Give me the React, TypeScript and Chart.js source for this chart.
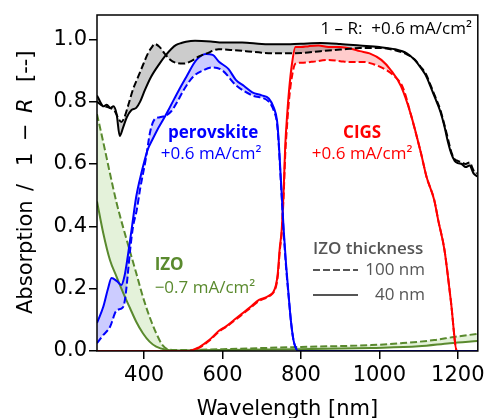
import React, { useEffect, useRef } from "react";
import { Chart, registerables } from "chart.js";

Chart.register(...registerables);

// ---- data (wavelength in nm, absorption / 1-R) ----
const wlBlack40 = [280, 288, 296, 305, 314, 322, 330, 338, 346, 356, 368, 380, 390, 402, 418, 440, 456, 470, 482, 495, 507, 530, 570, 600, 650, 700, 750, 800, 850, 900, 950, 1000, 1040, 1070, 1090, 1105, 1118, 1130, 1141, 1155, 1166, 1175, 1183, 1192, 1200, 1210, 1220, 1230, 1240, 1250];
const absBlack40 = [0.82, 0.80, 0.785, 0.79, 0.78, 0.785, 0.76, 0.69, 0.715, 0.75, 0.773, 0.78, 0.80, 0.837, 0.88, 0.923, 0.95, 0.97, 0.982, 0.988, 0.992, 0.995, 0.993, 0.99, 0.99, 0.985, 0.984, 0.986, 0.988, 0.985, 0.98, 0.975, 0.968, 0.955, 0.934, 0.91, 0.885, 0.85, 0.815, 0.77, 0.72, 0.67, 0.635, 0.61, 0.603, 0.60, 0.59, 0.595, 0.57, 0.56];

const wlBlack100 = [280, 290, 300, 312, 325, 335, 342, 350, 360, 372, 385, 398, 410, 420, 427, 440, 452, 466, 480, 500, 520, 540, 560, 590, 620, 660, 700, 750, 800, 850, 900, 950, 1000, 1040, 1070, 1090, 1105, 1118, 1130, 1141, 1155, 1166, 1175, 1183, 1192, 1200, 1210, 1220, 1230, 1240, 1250];
const absBlack100 = [0.80, 0.79, 0.785, 0.78, 0.77, 0.745, 0.735, 0.75, 0.79, 0.84, 0.88, 0.92, 0.955, 0.975, 0.985, 0.975, 0.955, 0.935, 0.925, 0.922, 0.93, 0.945, 0.955, 0.968, 0.966, 0.962, 0.957, 0.955, 0.956, 0.962, 0.967, 0.972, 0.972, 0.965, 0.952, 0.935, 0.912, 0.89, 0.855, 0.82, 0.775, 0.725, 0.68, 0.64, 0.615, 0.61, 0.605, 0.60, 0.605, 0.58, 0.57];

const wlPero40 = [280, 296, 308, 317, 330, 342, 350, 358, 368, 380, 393, 409, 422, 434, 450, 465, 490, 508, 533, 558, 575, 591, 615, 634, 655, 676, 700, 718, 731, 739, 743, 748, 752, 756, 762, 769, 775, 781, 787, 792, 1250];
const absPero40 = [0.09, 0.142, 0.20, 0.234, 0.225, 0.212, 0.24, 0.30, 0.388, 0.495, 0.57, 0.645, 0.68, 0.71, 0.745, 0.78, 0.84, 0.88, 0.933, 0.953, 0.95, 0.928, 0.905, 0.87, 0.85, 0.83, 0.82, 0.81, 0.78, 0.74, 0.68, 0.57, 0.48, 0.39, 0.28, 0.173, 0.09, 0.035, 0.01, 0, 0];

const wlPero100 = [280, 295, 313, 330, 346, 352, 358, 365, 372, 381, 390, 405, 415, 425, 440, 455, 470, 485, 500, 525, 550, 575, 600, 634, 676, 718, 731, 739, 743, 748, 752, 756, 762, 769, 775, 781, 787, 792, 1250];
const absPero100 = [0.025, 0.05, 0.077, 0.13, 0.14, 0.17, 0.24, 0.33, 0.40, 0.45, 0.52, 0.62, 0.70, 0.74, 0.75, 0.755, 0.77, 0.80, 0.835, 0.88, 0.90, 0.91, 0.90, 0.853, 0.82, 0.80, 0.77, 0.73, 0.67, 0.56, 0.47, 0.38, 0.27, 0.17, 0.09, 0.035, 0.01, 0, 0];

const wlCigs40 = [280, 515, 540, 566, 591, 610, 630, 650, 670, 693, 710, 722, 730, 736, 741, 746, 751, 756, 760, 765, 770, 777, 786, 800, 820, 845, 870, 900, 928, 950, 975, 1005, 1030, 1055, 1080, 1106, 1120, 1140, 1150, 1166, 1182, 1198, 1250];
const absCigs40 = [0, 0, 0.012, 0.035, 0.065, 0.08, 0.10, 0.12, 0.14, 0.164, 0.172, 0.18, 0.19, 0.21, 0.25, 0.33, 0.39, 0.52, 0.66, 0.76, 0.84, 0.92, 0.975, 0.975, 0.978, 0.98, 0.975, 0.975, 0.97, 0.962, 0.955, 0.934, 0.90, 0.85, 0.76, 0.635, 0.56, 0.484, 0.42, 0.324, 0.164, 0, 0];

const wlCigs100 = [280, 515, 540, 566, 591, 610, 630, 650, 670, 693, 710, 722, 730, 736, 741, 746, 751, 756, 760, 765, 770, 777, 786, 800, 830, 870, 900, 928, 963, 985, 1005, 1040, 1060, 1080, 1106, 1120, 1140, 1150, 1166, 1182, 1198, 1250];
const absCigs100 = [0, 0, 0.01, 0.033, 0.062, 0.078, 0.097, 0.117, 0.137, 0.16, 0.17, 0.178, 0.188, 0.205, 0.24, 0.32, 0.38, 0.50, 0.63, 0.73, 0.81, 0.88, 0.922, 0.925, 0.928, 0.934, 0.93, 0.927, 0.927, 0.92, 0.91, 0.88, 0.845, 0.76, 0.635, 0.56, 0.484, 0.42, 0.324, 0.164, 0, 0];

const wlIzo40 = [280, 296, 313, 330, 347, 364, 380, 397, 414, 431, 456, 480, 600, 800, 980, 1100, 1180, 1250];
const absIzo40 = [0.48, 0.378, 0.292, 0.238, 0.186, 0.138, 0.094, 0.057, 0.03, 0.014, 0.004, 0.002, 0.003, 0.006, 0.01, 0.015, 0.025, 0.032];

const wlIzo100 = [280, 296, 313, 330, 347, 364, 380, 397, 414, 431, 447, 465, 480, 600, 800, 980, 1055, 1140, 1190, 1250];
const absIzo100 = [0.76, 0.67, 0.57, 0.475, 0.395, 0.32, 0.25, 0.174, 0.11, 0.057, 0.019, 0.004, 0.003, 0.006, 0.013, 0.019, 0.025, 0.035, 0.045, 0.055];

const xTicks = [400, 600, 800, 1000, 1200];
const yTicks = [0, 0.2, 0.4, 0.6, 0.8, 1.0];

const GREEN = "#5a8a2e";
const GRAY = "#555555";
const TICK_FONT = "'DejaVu Sans', sans-serif";
const NOTE_FONT = "'Open Sans', sans-serif";
const AXIS_PX = 21;

function pts(xs: number[], ys: number[]) {
  return xs.map((x, i) => ({ x, y: ys[i] }));
}

function line(label: string, xs: number[], ys: number[], color: string, dashed: boolean, fillColor?: string) {
  return {
    label,
    data: pts(xs, ys),
    borderColor: color,
    borderWidth: 2,
    borderDash: dashed ? [7, 3] : [],
    pointRadius: 0,
    cubicInterpolationMode: "monotone" as const,
    fill: fillColor ? "-1" : false,
    backgroundColor: fillColor || "transparent",
  };
}

const framePlugin = {
  id: "frame",
  afterDatasetsDraw(chart: any) {
    const { ctx, chartArea } = chart;
    const { left, right, top, bottom } = chartArea;
    ctx.save();
    ctx.strokeStyle = "#000";
    ctx.lineWidth = 1.5;
    ctx.strokeRect(left, top, right - left, bottom - top);
    ctx.restore();
  },
};

const notesPlugin = {
  id: "notes",
  afterDatasetsDraw(chart: any) {
    const { ctx, scales, chartArea } = chart;
    const X = (v: number) => scales.x.getPixelForValue(v);
    const Y = (v: number) => scales.y.getPixelForValue(v);
    const put = (text: string, x: number, y: number, color: string, weight: string, align: CanvasTextAlign, size = 17) => {
      ctx.font = `${weight} ${size}px ${NOTE_FONT}`;
      ctx.fillStyle = color;
      ctx.textAlign = align;
      ctx.textBaseline = "middle";
      ctx.fillText(text, x, y);
    };
    ctx.save();
    put("perovskite", X(576), Y(0.70), "#0000ff", "bold", "center");
    put("+0.6 mA/cm²", X(571), Y(0.63), "#0000ff", "normal", "center");
    put("CIGS", X(956), Y(0.70), "#ff0000", "bold", "center");
    put("+0.6 mA/cm²", X(956), Y(0.63), "#ff0000", "normal", "center");
    put("IZO", X(427), Y(0.276), GREEN, "bold", "left");
    put("−0.7 mA/cm²", X(427), Y(0.203), GREEN, "normal", "left");
    put("1 – R:  +0.6 mA/cm²", chartArea.right - 6, chartArea.top + 14, "#000", "normal", "right");

    // legend for IZO thickness
    const lx = chartArea.left + 216;
    const ly = chartArea.top + 234;
    put("IZO thickness", lx, ly, GRAY, "600", "left");
    ctx.strokeStyle = GRAY;
    ctx.lineWidth = 2;
    ctx.setLineDash([7, 3]);
    ctx.beginPath();
    ctx.moveTo(lx, ly + 21);
    ctx.lineTo(lx + 45, ly + 21);
    ctx.stroke();
    ctx.setLineDash([]);
    ctx.beginPath();
    ctx.moveTo(lx, ly + 46);
    ctx.lineTo(lx + 45, ly + 46);
    ctx.stroke();
    put("100 nm", lx + 112, ly + 21, GRAY, "normal", "right");
    put("40 nm", lx + 112, ly + 46, GRAY, "normal", "right");
    ctx.restore();
  },
};

const titlesPlugin = {
  id: "titles",
  afterDraw(chart: any) {
    const { ctx, chartArea } = chart;
    ctx.save();
    ctx.fillStyle = "#000";
    // x axis title
    ctx.font = `${AXIS_PX}px ${TICK_FONT}`;
    ctx.textAlign = "center";
    ctx.textBaseline = "alphabetic";
    ctx.fillText("Wavelength [nm]", (chartArea.left + chartArea.right) / 2, 415);
    // y axis title (pieces placed bottom to top, rotated)
    const parts: [string, string, number][] = [
      ["Absorption", "normal", 314],
      ["/", "normal", 191],
      ["1", "normal", 166],
      ["−", "normal", 141],
      ["R", "italic", 113],
      ["[--]", "normal", 82],
    ];
    ctx.textAlign = "left";
    parts.forEach(([t, style, yStart]) => {
      ctx.save();
      ctx.font = `${style} ${AXIS_PX}px ${TICK_FONT}`;
      ctx.translate(32, yStart);
      ctx.rotate(-Math.PI / 2);
      ctx.fillText(t, 0, 0);
      ctx.restore();
    });
    ctx.restore();
  },
};

export default function App() {
  const ref = useRef<HTMLCanvasElement | null>(null);
  useEffect(() => {
    if (!ref.current) return;
    const chart = new Chart(ref.current, {
      type: "line",
      data: {
        datasets: [
          line("1-R 40 nm", wlBlack40, absBlack40, "#000000", false),
          line("1-R 100 nm", wlBlack100, absBlack100, "#000000", true, "rgba(0,0,0,0.2)"),
          line("perovskite 40 nm", wlPero40, absPero40, "#0000ff", false),
          line("perovskite 100 nm", wlPero100, absPero100, "#0000ff", true, "rgba(0,0,255,0.2)"),
          line("CIGS 40 nm", wlCigs40, absCigs40, "#ff0000", false),
          line("CIGS 100 nm", wlCigs100, absCigs100, "#ff0000", true, "rgba(255,0,0,0.2)"),
          line("IZO 40 nm", wlIzo40, absIzo40, GREEN, false),
          line("IZO 100 nm", wlIzo100, absIzo100, GREEN, true, "rgba(120,190,70,0.2)"),
        ] as any,
      },
      options: {
        animation: false,
        responsive: false,
        devicePixelRatio: 1,
        layout: { padding: { left: 0, right: 9, top: 15, bottom: 0 } },
        plugins: {
          legend: { display: false },
          tooltip: { enabled: false },
          filler: { drawTime: "beforeDatasetsDraw" },
        } as any,
        scales: {
          x: {
            type: "linear",
            min: 280,
            max: 1251,
            afterBuildTicks: (s: any) => {
              s.ticks = xTicks.map((v) => ({ value: v }));
            },
            afterFit: (s: any) => {
              s.height = 67;
            },
            ticks: {
              color: "#000",
              font: { family: TICK_FONT, size: AXIS_PX },
              padding: 4,
              maxRotation: 0,
              autoSkip: false,
              callback: (v: any) => String(v),
            },
            grid: { display: true, drawOnChartArea: false, drawTicks: true, tickLength: 8, color: "#000", lineWidth: 1.5 },
            border: { display: false },
          },
          y: {
            type: "linear",
            min: 0,
            max: 1.078,
            afterBuildTicks: (s: any) => {
              s.ticks = yTicks.map((v) => ({ value: v }));
            },
            afterFit: (s: any) => {
              s.width = 97;
            },
            ticks: {
              color: "#000",
              font: { family: TICK_FONT, size: AXIS_PX },
              padding: 2,
              autoSkip: false,
              callback: (v: any) => Number(v).toFixed(1),
            },
            grid: { display: true, drawOnChartArea: false, drawTicks: true, tickLength: 8, color: "#000", lineWidth: 1.5 },
            border: { display: false },
          },
        },
      } as any,
      plugins: [framePlugin, notesPlugin, titlesPlugin],
    });
    return () => chart.destroy();
  }, []);
  return (
    <div style={{ position: "absolute", left: 0, top: 0, width: 489, height: 418 }}>
      <canvas ref={ref} width={489} height={418} style={{ display: "block" }} />
    </div>
  );
}
